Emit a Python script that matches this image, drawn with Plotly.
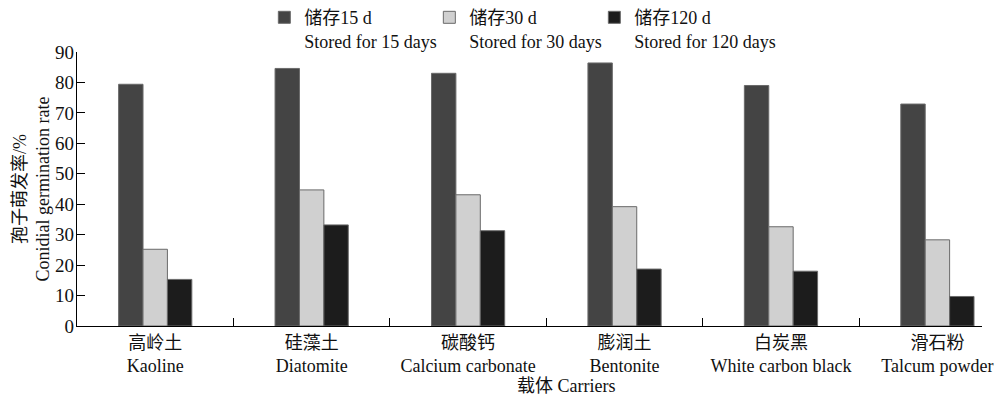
import plotly.graph_objects as go

categories = ["高岭土<br>Kaoline", "硅藻土<br>Diatomite", "碳酸钙<br>Calcium carbonate",
              "膨润土<br>Bentonite", "白炭黑<br>White carbon black", "滑石粉<br>Talcum powder"]
series_names = ["储存15 d<br>Stored for 15 days", "储存30 d<br>Stored for 30 days",
                "储存120 d<br>Stored for 120 days"]
stored_15d = [79.4, 84.6, 83.0, 86.4, 79.0, 72.9]
stored_30d = [25.2, 44.7, 43.1, 39.2, 32.6, 28.3]
stored_120d = [15.3, 33.2, 31.3, 18.7, 18.0, 9.7]
y_ticks = [0, 10, 20, 30, 40, 50, 60, 70, 80, 90]

FONT = "Liberation Serif, Times New Roman, Noto Sans CJK SC, serif"
colors = ["#444444", "#d0d0d0", "#1c1c1c"]

fig = go.Figure()
for name, vals, col in zip(series_names, [stored_15d, stored_30d, stored_120d], colors):
    fig.add_trace(go.Bar(x=categories, y=vals, name=name,
                         marker=dict(color=col, line=dict(color="#6a6a6a", width=1))))
# invisible spacer entry so the last legend text is not clipped
fig.add_trace(go.Scatter(x=[None], y=[None], mode="markers", name=" ",
                         marker=dict(color="rgba(0,0,0,0)"), hoverinfo="skip"))

fig.update_layout(
    width=997, height=401,
    margin=dict(l=77, r=15, t=52, b=75, autoexpand=False),
    paper_bgcolor="white", plot_bgcolor="white",
    font=dict(family=FONT, size=18, color="#111111"),
    barmode="group", bargap=0.532, bargroupgap=0,
    showlegend=True,
    legend=dict(orientation="h", x=0.207, xanchor="left", y=1.193, yanchor="top",
                yref="paper", font=dict(size=18), valign="top",
                itemwidth=30, entrywidth=120, tracegroupgap=0,
                bgcolor="rgba(0,0,0,0)"),
    xaxis=dict(type="category", range=[-0.5, 5.285], showline=True, linecolor="black",
               linewidth=1.2, tickson="boundaries", ticks="inside", ticklen=8,
               tickcolor="black", tickwidth=1, showgrid=False, zeroline=False,
               tickfont=dict(size=18)),
    yaxis=dict(range=[0, 90], tickvals=y_ticks, showline=True, linecolor="black",
               linewidth=1.2, ticks="inside", ticklen=8, tickcolor="black", tickwidth=1,
               showgrid=False, zeroline=False, tickfont=dict(size=19),
               ticklabelstandoff=-2,
               title=dict(text="孢子萌发率/%<br>Conidial germination rate",
                          font=dict(size=18), standoff=0)),
)
fig.add_annotation(text="载体 Carriers", xref="paper", yref="paper", x=0.54, y=0,
                   yshift=-48, xanchor="center", yanchor="top", showarrow=False,
                   font=dict(size=18))
fig.write_html("out.html", post_script="document.body.style.margin='0';",
               config={"displayModeBar": False})
